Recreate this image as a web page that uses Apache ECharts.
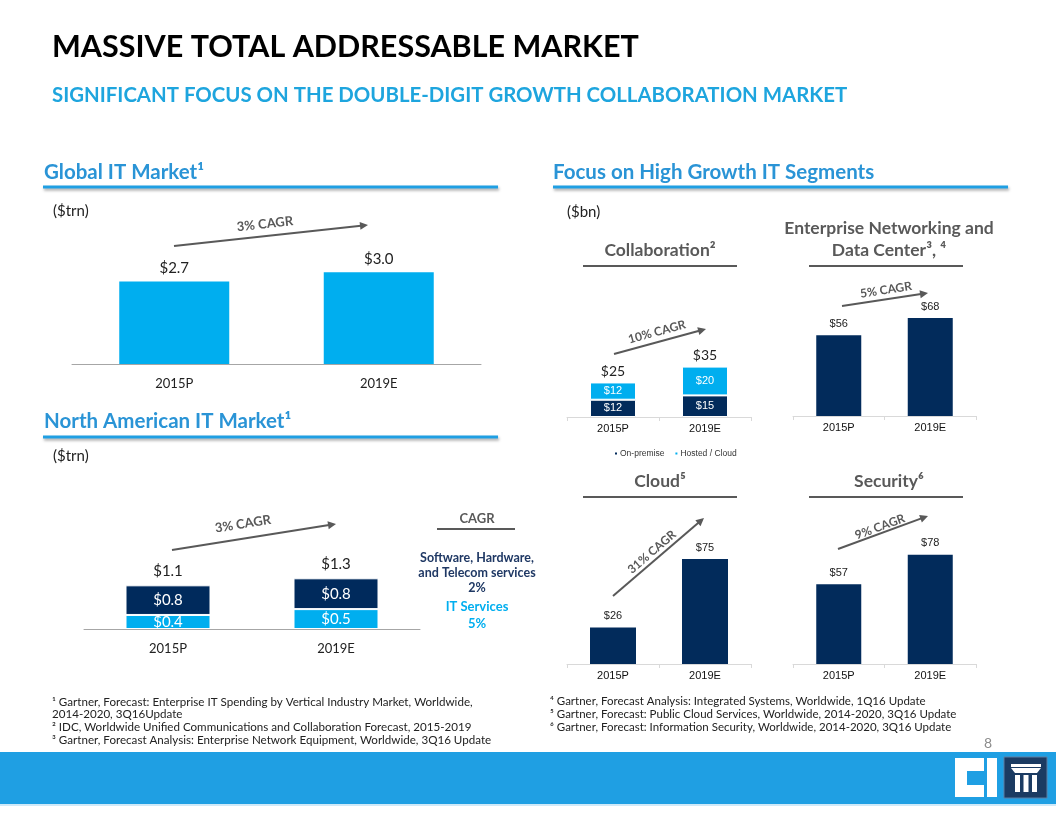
<!DOCTYPE html>
<html><head><meta charset="utf-8">
<script src="https://cdn.jsdelivr.net/npm/echarts@6/dist/echarts.min.js"></script>
<style>html,body{margin:0;padding:0;background:#fff}#c{width:1056px;height:816px}</style>
</head><body><div id="c"></div>
<script>
// ---------- data ----------
const categories = ['2015P', '2019E'];
const globalIT = [2.7, 3.0];                 // $trn
const naHwSwTelecom = [0.76, 0.79];          // $trn (labelled $0.8 / $0.8)
const naITServices = [0.36, 0.51];           // $trn (labelled $0.4 / $0.5)
const naTotals = [1.1, 1.3];                 // reported totals
const collabOnPremise = [12, 15];            // $bn
const collabHosted = [12, 20];               // $bn
const collabTotals = [25, 35];               // reported totals
const networking = [56, 68];                 // $bn
const cloud = [26, 75];                      // $bn
const security = [57, 78];                   // $bn
const legendNames = ['On-premise', 'Hosted / Cloud'];
const footnotesLeft = [
  '¹ Gartner, Forecast: Enterprise IT Spending by Vertical Industry Market, Worldwide,',
  '2014-2020, 3Q16Update',
  '² IDC, Worldwide Unified Communications and Collaboration Forecast, 2015-2019',
  '³ Gartner, Forecast Analysis: Enterprise Network Equipment, Worldwide, 3Q16 Update'
];
const footnotesRight = [
  '⁴ Gartner, Forecast Analysis: Integrated Systems, Worldwide, 1Q16 Update',
  '⁵ Gartner, Forecast: Public Cloud Services, Worldwide, 2014-2020, 3Q16 Update',
  '⁶ Gartner, Forecast: Information Security, Worldwide, 2014-2020, 3Q16 Update'
];

// ---------- styles ----------
const LATO = 'Lato, "Open Sans", sans-serif';
const ARIAL = '"Liberation Sans", Arial, sans-serif';
const LIGHT = '#00aeef';
const NAVY = '#002a5c';
const NAVY2 = '#022b5b';
const GRAY = '#595959';
const HEAD = '#2a94d6';
const BAR = '#1f9fe3';

const chart = echarts.init(document.getElementById('c'), null, {renderer: 'canvas'});

function cat(idx, grid, opt) {
  return Object.assign({
    type: 'category', gridIndex: grid, data: categories,
    axisLine: {show: true, lineStyle: {color: '#a6a6a6', width: 1}},
    axisTick: {show: false},
    axisLabel: {fontFamily: LATO, fontSize: 13, color: '#222', margin: 13}
  }, opt || {});
}
function val(grid, max) {
  return {type: 'value', gridIndex: grid, min: 0, max: max, show: false, splitLine: {show: false}};
}
const rightCat = {
  axisLine: {show: true, lineStyle: {color: '#d9d9d9', width: 1}},
  axisTick: {show: true, length: 4, lineStyle: {color: '#d9d9d9'}},
  axisLabel: {fontFamily: ARIAL, fontSize: 11, color: '#111', margin: 6}
};

const fmt1 = p => '$' + p.value.toFixed(1);
const fmt0 = p => '$' + Math.round(p.value);

// ---------- graphic helpers ----------
const g = [];
function text(x, y, str, o) {
  o = o || {};
  g.push({
    type: 'text', x: x, y: y, rotation: o.rot || 0, z: 10,
    style: {
      text: str, x: 0, y: 0,
      align: o.align || 'left', verticalAlign: 'middle',
      fontFamily: o.font || LATO, fontSize: o.size || 13,
      fontWeight: o.weight || 'normal', fill: o.color || '#222'
    }
  });
}
function hline(x1, x2, y, color, w, shadow) {
  const el = {type: 'rect', shape: {x: x1, y: y - w / 2, width: x2 - x1, height: w}, style: {fill: color}, z: 5};
  if (shadow) {
    el.style.shadowBlur = 3; el.style.shadowColor = 'rgba(0,0,0,0.35)';
    el.style.shadowOffsetY = 2; el.style.shadowOffsetX = 1;
  }
  g.push(el);
}
function arrow(x1, y1, x2, y2, label, lx, ly, size) {
  const dx = x2 - x1, dy = y2 - y1, L = Math.sqrt(dx * dx + dy * dy);
  const ux = dx / L, uy = dy / L, px = -uy, py = ux;
  const hl = 8, hw = 4;
  const bx = x2 - ux * hl, by = y2 - uy * hl;
  g.push({type: 'line', shape: {x1: x1, y1: y1, x2: bx + ux, y2: by + uy}, style: {stroke: GRAY, lineWidth: 2}, z: 6});
  g.push({type: 'polygon', shape: {points: [[x2, y2], [bx + px * hw, by + py * hw], [bx - px * hw, by - py * hw]]}, style: {fill: GRAY}, z: 6});
  text(lx, ly, label, {align: 'center', weight: 'bold', color: GRAY, size: size || 13, rot: Math.atan2(y1 - y2, x2 - x1)});
}

// titles
text(52, 47, 'MASSIVE TOTAL ADDRESSABLE MARKET', {size: 30.5, weight: 'bold', color: '#000'});
text(52, 95, 'SIGNIFICANT FOCUS ON THE DOUBLE-DIGIT GROWTH COLLABORATION MARKET', {size: 20.4, weight: 'bold', color: '#1ea5de'});

// section headings
text(44, 172, 'Global IT Market¹', {size: 20.5, weight: 'bold', color: HEAD});
hline(43, 498, 187, BAR, 3, true);
text(553, 172, 'Focus on High Growth IT Segments', {size: 20.5, weight: 'bold', color: HEAD});
hline(553, 1008, 187, BAR, 3, true);
text(44, 421, 'North American IT Market¹', {size: 20.5, weight: 'bold', color: HEAD});
hline(43, 498, 437, BAR, 3, true);

text(53, 211, '($trn)', {size: 15});
text(53, 456, '($trn)', {size: 15});
text(567, 212, '($bn)', {size: 15});

// right sub headings
const SUB = 17.5;
text(660, 250, 'Collaboration²', {size: SUB, weight: 'bold', color: GRAY, align: 'center'});
hline(583, 737, 266, GRAY, 2);
text(889, 228, 'Enterprise Networking and', {size: SUB, weight: 'bold', color: GRAY, align: 'center'});
text(889, 250, 'Data Center³, ⁴', {size: SUB, weight: 'bold', color: GRAY, align: 'center'});
hline(809, 963, 266, GRAY, 2);
text(660, 481, 'Cloud⁵', {size: SUB, weight: 'bold', color: GRAY, align: 'center'});
hline(583, 737, 497, GRAY, 2);
text(889, 481, 'Security⁶', {size: SUB, weight: 'bold', color: GRAY, align: 'center'});
hline(809, 963, 497, GRAY, 2);

// NA CAGR box
text(477, 519, 'CAGR', {size: 13, weight: 'bold', color: GRAY, align: 'center'});
hline(437, 515, 529, GRAY, 2);
text(477, 558, 'Software, Hardware,', {size: 12.5, weight: 'bold', color: '#1f3864', align: 'center'});
text(477, 573, 'and Telecom services', {size: 12.5, weight: 'bold', color: '#1f3864', align: 'center'});
text(477, 588, '2%', {size: 12.5, weight: 'bold', color: '#1f3864', align: 'center'});
text(477, 607, 'IT Services', {size: 13, weight: 'bold', color: LIGHT, align: 'center'});
text(477, 624, '5%', {size: 13, weight: 'bold', color: LIGHT, align: 'center'});

// CAGR arrows
arrow(174, 246, 368, 225, '3% CAGR', 265, 224, 13);
arrow(172, 550, 336, 524, '3% CAGR', 243, 524, 13);
arrow(614, 354, 706, 329, '10% CAGR', 657, 332, 12);
arrow(842, 306, 928, 293, '5% CAGR', 886, 290, 12);
arrow(613, 596, 704, 518, '31% CAGR', 652, 552, 12);
arrow(838, 549, 928, 516, '9% CAGR', 880, 527, 12);

// footnotes
footnotesLeft.forEach((t, i) => text(52, 702 + i * 12.7, t, {size: 11.6, color: '#222'}));
footnotesRight.forEach((t, i) => text(550, 701 + i * 13, t, {size: 11.5, color: '#222'}));
text(988, 743, '8', {size: 14, color: '#8c8c8c', align: 'center'});

// bottom bar + logo
g.push({type: 'rect', shape: {x: 0, y: 752, width: 1056, height: 52}, style: {fill: BAR}, z: 1});
g.push({type: 'rect', shape: {x: 0, y: 804, width: 1056, height: 2}, style: {fill: '#cfe9f8'}, z: 1});
g.push({type: 'polygon', shape: {points: [[955, 758], [984, 758], [984, 771], [967, 771], [967, 785], [984, 785], [984, 797], [955, 797]]}, style: {fill: '#fff'}, z: 2});
g.push({type: 'polygon', shape: {points: [[987, 758], [997, 758], [997, 797], [987, 797]]}, style: {fill: '#fff'}, z: 2});
g.push({type: 'rect', shape: {x: 1004, y: 757, width: 43, height: 41}, style: {fill: '#1b3b62', stroke: '#5d7fa3', lineWidth: 1}, z: 2});
g.push({type: 'rect', shape: {x: 1011, y: 764, width: 30, height: 3}, style: {fill: '#fff'}, z: 3});
g.push({type: 'polygon', shape: {points: [[1011, 768], [1041, 768], [1037, 773], [1015, 773]]}, style: {fill: '#fff'}, z: 3});
[1015, 1023.5, 1032].forEach(x => g.push({type: 'rect', shape: {x: x, y: 775, width: 5, height: 17}, style: {fill: '#fff'}, z: 3}));

// ---------- option ----------
const zeros = categories.map(() => 0);
const option = {
  animation: false,
  backgroundColor: '#fff',
  legend: {
    data: legendNames, left: 608, top: 444, icon: 'rect', itemWidth: 4, itemHeight: 4, itemGap: 9,
    textStyle: {fontFamily: ARIAL, fontSize: 8.5, color: '#333', padding: [0, 0, 0, -3]}
  },
  grid: [
    {left: 72, top: 211, width: 409, height: 153},
    {left: 84, top: 512, width: 336, height: 117},
    {left: 567, top: 273, width: 184, height: 144},
    {left: 793, top: 272, width: 183, height: 144},
    {left: 567, top: 524, width: 184, height: 140},
    {left: 793, top: 524, width: 183, height: 140}
  ],
  xAxis: [
    cat(0, 0),
    cat(1, 1),
    Object.assign(cat(2, 2), rightCat),
    Object.assign(cat(3, 3), rightCat),
    Object.assign(cat(4, 4), rightCat),
    Object.assign(cat(5, 5), rightCat)
  ],
  yAxis: [val(0, 5), val(1, 3), val(2, 100), val(3, 100), val(4, 100), val(5, 100)],
  series: [
    {type: 'bar', name: 'Global IT', xAxisIndex: 0, yAxisIndex: 0, data: globalIT, barWidth: 110,
      itemStyle: {color: LIGHT},
      label: {show: true, position: 'top', distance: 6, formatter: fmt1, fontFamily: LATO, fontSize: 15, color: '#222'}},
    {type: 'bar', name: 'IT Services', xAxisIndex: 1, yAxisIndex: 1, stack: 'na', data: naITServices, barWidth: 85,
      itemStyle: {color: LIGHT, borderColor: '#fff', borderWidth: 1},
      label: {show: true, position: 'inside', formatter: fmt1, fontFamily: LATO, fontSize: 15, color: '#fff'}},
    {type: 'bar', name: 'Software, Hardware, Telecom', xAxisIndex: 1, yAxisIndex: 1, stack: 'na', data: naHwSwTelecom, barWidth: 85,
      itemStyle: {color: NAVY, borderColor: '#fff', borderWidth: 1},
      label: {show: true, position: 'inside', formatter: fmt1, fontFamily: LATO, fontSize: 15, color: '#fff'}},
    {type: 'bar', name: 'NA total', xAxisIndex: 1, yAxisIndex: 1, stack: 'na', data: zeros, barWidth: 85,
      itemStyle: {color: 'rgba(0,0,0,0)'},
      label: {show: true, position: 'top', distance: 7, formatter: p => '$' + naTotals[p.dataIndex].toFixed(1), fontFamily: LATO, fontSize: 15, color: '#222'}},
    {type: 'bar', name: 'On-premise', xAxisIndex: 2, yAxisIndex: 2, stack: 'c', data: collabOnPremise, barWidth: 46,
      itemStyle: {color: NAVY2, borderColor: '#fff', borderWidth: 1},
      label: {show: true, position: 'inside', formatter: fmt0, fontFamily: ARIAL, fontSize: 11, color: '#fff'}},
    {type: 'bar', name: 'Hosted / Cloud', xAxisIndex: 2, yAxisIndex: 2, stack: 'c', data: collabHosted, barWidth: 46,
      itemStyle: {color: LIGHT, borderColor: '#fff', borderWidth: 1},
      label: {show: true, position: 'inside', formatter: fmt0, fontFamily: ARIAL, fontSize: 11, color: '#fff'}},
    {type: 'bar', name: 'Collab total', xAxisIndex: 2, yAxisIndex: 2, stack: 'c', data: zeros, barWidth: 46,
      itemStyle: {color: 'rgba(0,0,0,0)'},
      label: {show: true, position: 'top', distance: 4, formatter: p => '$' + collabTotals[p.dataIndex], fontFamily: LATO, fontSize: 14, color: '#222'}},
    {type: 'bar', name: 'Networking', xAxisIndex: 3, yAxisIndex: 3, data: networking, barWidth: 45,
      itemStyle: {color: NAVY2},
      label: {show: true, position: 'top', distance: 6, formatter: fmt0, fontFamily: ARIAL, fontSize: 11, color: '#222'}},
    {type: 'bar', name: 'Cloud', xAxisIndex: 4, yAxisIndex: 4, data: cloud, barWidth: 46,
      itemStyle: {color: NAVY2},
      label: {show: true, position: 'top', distance: 6, formatter: fmt0, fontFamily: ARIAL, fontSize: 11, color: '#222'}},
    {type: 'bar', name: 'Security', xAxisIndex: 5, yAxisIndex: 5, data: security, barWidth: 45,
      itemStyle: {color: NAVY2},
      label: {show: true, position: 'top', distance: 6, formatter: fmt0, fontFamily: ARIAL, fontSize: 11, color: '#222'}}
  ],
  graphic: {elements: g}
};
chart.setOption(option);
</script>
</body></html>
